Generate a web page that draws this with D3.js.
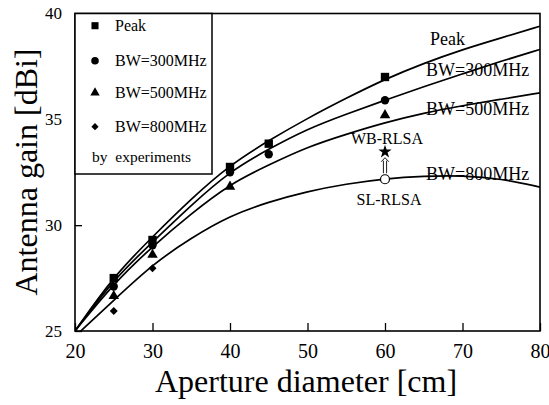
<!DOCTYPE html>
<html>
<head>
<meta charset="utf-8">
<script src="https://cdn.jsdelivr.net/npm/d3@7"></script>
<style>
  html, body { margin: 0; padding: 0; background: #fff; }
  svg { display: block; font-family: "Liberation Serif", "Times New Roman", serif; }
</style>
</head>
<body>
<svg id="chart" width="549" height="405"></svg>
<script>
// Aperture diameter grid for the computed curves [cm]
const curveX = [20, 25, 30, 35, 40, 45, 50, 55, 60, 65, 70, 75, 80];

// Computed antenna gain [dBi] for each bandwidth condition
const peakCurve  = [25.0, 27.6, 29.45, 31.25, 32.85, 34.0, 35.05, 36.0, 36.9, 37.65, 38.3, 38.85, 39.4];
const bw300Curve = [25.0, 27.45, 29.2, 30.95, 32.55, 33.6, 34.55, 35.25, 35.9, 36.55, 37.15, 37.75, 38.3];
const bw500Curve = [25.0, 27.25, 29.0, 30.55, 31.95, 32.85, 33.7, 34.3, 34.85, 35.3, 35.65, 35.95, 36.25];
const bw800Curve = [24.75, 26.45, 28.15, 29.4, 30.45, 31.1, 31.6, 31.95, 32.2, 32.32, 32.35, 32.2, 31.8];

// Measured gain points [diameter, gain]
const peakMeas  = [[25, 27.5], [30, 29.3], [40, 32.75], [45, 33.85], [60, 37.0]];
const bw300Meas = [[25, 27.1], [30, 29.05], [40, 32.5], [45, 33.35], [60, 35.9]];
const bw500Meas = [[25, 26.65], [30, 28.6], [40, 31.82], [60, 35.2]];
const bw800Meas = [[25, 25.95], [30, 27.96]];

// Single-layer and wideband RLSA prototypes
const wbRlsa = [60, 33.47];
const slRlsa = [60, 32.17];

const xTicks = [20, 30, 40, 50, 60, 70, 80];
const yTicks = [25, 30, 35, 40];

const curveNames = ["Peak", "BW=300MHz", "BW=500MHz", "BW=800MHz"];
const legendLabels = ["Peak", "BW=300MHz", "BW=500MHz", "BW=800MHz"];

const svg = d3.select("#chart");
const pLeft = 75, pRight = 540, pTop = 13.5, pBottom = 331;

const x = d3.scaleLinear().domain([20, 80]).range([pLeft, pRight]);
const y = d3.scaleLinear().domain([25, 40]).range([pBottom, pTop]);

// clip for curves
svg.append("defs").append("clipPath").attr("id", "plotClip")
  .append("rect").attr("x", pLeft).attr("y", pTop).attr("width", pRight - pLeft).attr("height", pBottom - pTop);

// axes with inward ticks
const xAxis = svg.append("g")
  .attr("transform", `translate(0,${pBottom})`)
  .call(d3.axisBottom(x).tickValues(xTicks).tickSizeInner(-8).tickSizeOuter(0).tickPadding(13));
xAxis.selectAll("text").attr("font-size", 20).attr("font-family", "Liberation Serif").attr("fill", "#000");

const yAxis = svg.append("g")
  .attr("transform", `translate(${pLeft},0)`)
  .call(d3.axisLeft(y).tickValues(yTicks).tickSizeInner(-7).tickSizeOuter(0).tickPadding(13));
yAxis.selectAll("text").attr("font-size", 17).attr("font-family", "Liberation Serif").attr("fill", "#000");

[xAxis, yAxis].forEach(a => {
  a.select(".domain").remove();
  a.selectAll("line").attr("stroke", "#000").attr("stroke-width", 1.3);
});

// frame
svg.append("rect")
  .attr("x", pLeft).attr("y", pTop).attr("width", pRight - pLeft).attr("height", pBottom - pTop)
  .attr("fill", "none").attr("stroke", "#000").attr("stroke-width", 1.6);

// computed curves
const line = d3.line()
  .x(d => x(d[0])).y(d => y(d[1]))
  .curve(d3.curveBasis);

const curves = [peakCurve, bw300Curve, bw500Curve, bw800Curve];
svg.append("g").attr("clip-path", "url(#plotClip)")
  .selectAll("path").data(curves).join("path")
  .attr("d", vals => line(curveX.map((cx, i) => [cx, vals[i]])))
  .attr("fill", "none").attr("stroke", "#000").attr("stroke-width", 1.7);

// measured markers (diamond = square turned 45 degrees)
const markerTypes = [d3.symbolSquare, d3.symbolCircle, d3.symbolTriangle, d3.symbolSquare];
const markerRot = [0, 0, 0, 45];
const markerSizes = [70, 55, 48, 32];
const measSets = [peakMeas, bw300Meas, bw500Meas, bw800Meas];

measSets.forEach((set, k) => {
  svg.append("g").selectAll("path").data(set).join("path")
    .attr("transform", d => `translate(${x(d[0])},${y(d[1])}) rotate(${markerRot[k]})`)
    .attr("d", d3.symbol().type(markerTypes[k]).size(markerSizes[k]))
    .attr("fill", "#000");
});

// prototype markers
svg.append("path")
  .attr("transform", `translate(${x(wbRlsa[0])},${y(wbRlsa[1])})`)
  .attr("d", d3.symbol().type(d3.symbolStar).size(55))
  .attr("fill", "#000");
svg.append("circle")
  .attr("cx", x(slRlsa[0])).attr("cy", y(slRlsa[1])).attr("r", 4.5)
  .attr("fill", "#fff").attr("stroke", "#000").attr("stroke-width", 1.2);

// double arrow from SL-RLSA up to WB-RLSA
const ax = x(slRlsa[0]);
const aTop = y(wbRlsa[1]) + 6, aBot = y(slRlsa[1]) - 6;
const arrow = svg.append("g").attr("fill", "none").attr("stroke", "#000").attr("stroke-width", 0.9);
arrow.append("path").attr("d", `M${ax - 1.6},${aBot} V${aTop + 3} M${ax + 1.6},${aBot} V${aTop + 3}`);
arrow.append("path").attr("d", `M${ax - 3.8},${aTop + 4} L${ax},${aTop} L${ax + 3.8},${aTop + 4}`);

svg.append("text").attr("x", ax + 2).attr("y", 143.5).attr("text-anchor", "middle")
  .attr("font-size", 16).text("WB-RLSA");
svg.append("text").attr("x", ax + 4).attr("y", 204.5).attr("text-anchor", "middle")
  .attr("font-size", 16).text("SL-RLSA");

// curve labels
const curveLabelPos = [[430, 45], [426, 75.5], [426, 114.5], [426, 179.5]];
svg.append("g").selectAll("text").data(curveNames).join("text")
  .attr("x", (d, i) => curveLabelPos[i][0]).attr("y", (d, i) => curveLabelPos[i][1])
  .attr("font-size", 18).text(d => d);

// legend
const lg = svg.append("g");
lg.append("rect").attr("x", pLeft).attr("y", pTop).attr("width", 212 - pLeft).attr("height", 174 - pTop)
  .attr("fill", "#fff").attr("stroke", "#000").attr("stroke-width", 1.5);
const legendMarkY = [25.7, 60.7, 92.7, 126.7];
const legendSizes = [50, 45, 38, 26];
legendLabels.forEach((lab, i) => {
  lg.append("path")
    .attr("transform", `translate(95,${legendMarkY[i]}) rotate(${markerRot[i]})`)
    .attr("d", d3.symbol().type(markerTypes[i]).size(legendSizes[i]))
    .attr("fill", "#000");
  lg.append("text").attr("x", 115).attr("y", legendMarkY[i] + 5)
    .attr("font-size", 16).text(lab);
});
lg.append("text").attr("x", 92).attr("y", 162).attr("font-size", 15.5)
  .attr("xml:space", "preserve").text("by  experiments");

// axis titles
svg.append("text").attr("x", 306).attr("y", 392).attr("text-anchor", "middle")
  .attr("font-size", 32).text("Aperture diameter [cm]");
svg.append("text").attr("transform", "translate(37,172) rotate(-90)").attr("text-anchor", "middle")
  .attr("font-size", 32).text("Antenna gain [dBi]");
</script>
</body>
</html>
